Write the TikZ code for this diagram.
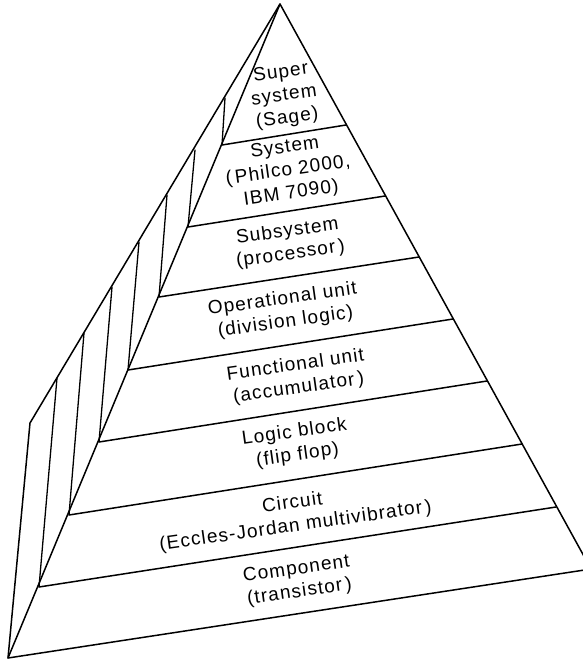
\documentclass[tikz,border=0pt]{standalone}
\usepackage{fontspec}
\setmainfont{Liberation Sans}[LetterSpace=6.0]
\begin{document}
\begin{tikzpicture}[x=1pt,y=-1pt,
  edge/.style={line width=1.5pt, line join=round, line cap=round},
  rib/.style={line width=1.3pt, line cap=round},
  tier/.style={align=center, rotate=8, inner sep=0pt,
    font=\fontsize{19}{23}\selectfont}]
\useasboundingbox (0,0) rectangle (583,661);
\clip (0,0) rectangle (583,661);

% apex of the pyramid
\coordinate (apex) at (280,4);
% front face, left edge: level boundaries
\coordinate (L1) at (222,145);
\coordinate (L2) at (188,227);
\coordinate (L3) at (159,297);
\coordinate (L4) at (128,370);
\coordinate (L5) at (99,442);
\coordinate (L6) at (69,515);
\coordinate (L7) at (39,587);
\coordinate (L8) at (8,658);
% front face, right edge
\coordinate (R1) at (346,125);
\coordinate (R2) at (385,196);
\coordinate (R3) at (419,257);
\coordinate (R4) at (453,319);
\coordinate (R5) at (487,381);
\coordinate (R6) at (522,444);
\coordinate (R7) at (556,507);
\coordinate (R8) at (591,569);
% side face, back edge
\coordinate (O1) at (225,98);
\coordinate (O2) at (195,150);
\coordinate (O3) at (167,195);
\coordinate (O4) at (139,242);
\coordinate (O5) at (112,287);
\coordinate (O6) at (84,333);
\coordinate (O7) at (57,378);
\coordinate (O8) at (30,423);

% outline and the ridge between the two faces
\draw[edge] (apex) -- (O8) -- (L8) -- (R8) -- cycle;
\draw[edge] (apex) -- (L8);

% level boundaries on the front face and ribs on the side face
\foreach \i in {1,...,7}{
  \draw[edge] (L\i) -- (R\i);
  \draw[rib] (O\i) -- (L\i);
}

% level labels
\node[tier] (super) at (284,96) {Super\\system\\(Sage)};
\node[tier] (system) at (288,171) {System\\(\,Philco 2000,\\IBM 7090)};
\node[tier] (subsys) at (289,243) {Subsystem\\(processor\,)};
\node[tier] (opunit) at (284,311) {Operational unit\\(division logic)};
\node[tier] (fnunit) at (297,377) {Functional unit\\(accumulator\,)};
\node[tier] (logic) at (296,444) {Logic block\\(flip flop)};
\node[tier] (circuit) at (294,515) {Circuit\\(Eccles-Jordan multivibrator\,)};
\node[tier] (component) at (298,581) {Component\\(transistor\,)};
\end{tikzpicture}
\end{document}
